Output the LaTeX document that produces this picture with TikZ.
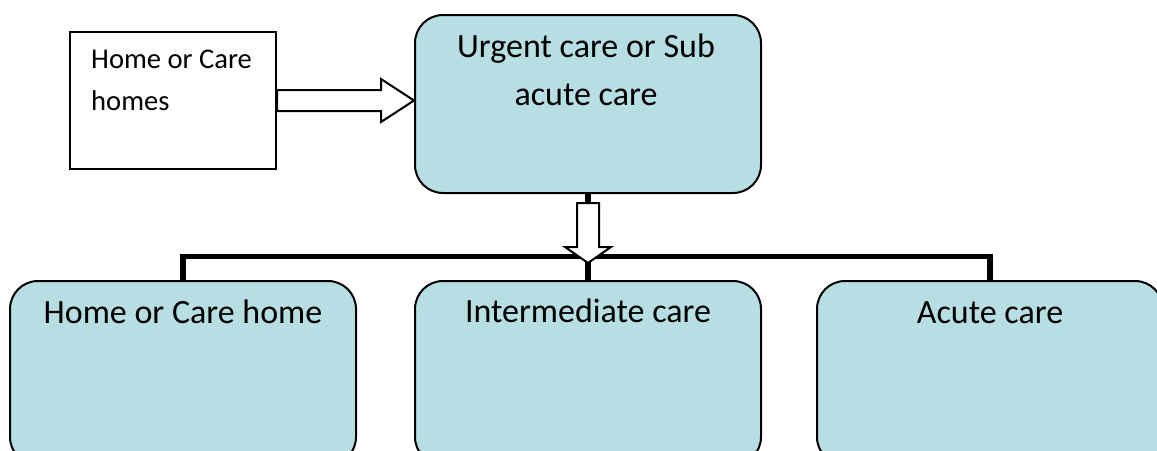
\documentclass[tikz,border=0pt]{standalone}
\usepackage{fontspec}
\setmainfont{Carlito}
\usetikzlibrary{calc}
\definecolor{boxfill}{HTML}{B7DEE2}
\tikzset{
  carebox/.style={draw=black, line width=2pt, fill=boxfill, rounded corners=28pt,
    inner sep=0pt, minimum width=346pt, anchor=north west},
  plainbox/.style={draw=black, line width=2pt, fill=white, inner sep=0pt, anchor=north west},
  blockarrow/.style={draw=black, line width=2pt, fill=white, line join=miter},
  bus/.style={draw=black, line width=5.5pt},
  bigtext/.style={inner sep=0pt, font=\fontsize{34}{48}\selectfont},
  smalltext/.style={inner sep=0pt, font=\fontsize{28.6}{42}\selectfont},
}
\begin{document}
\begin{tikzpicture}[x=1pt, y=-1pt]
\useasboundingbox (0,0) rectangle (1157,450);
\clip (0,0) rectangle (1157,450);

% boxes
\node[plainbox, minimum width=206pt, minimum height=137pt] (src) at (69,31) {};
\node[carebox, minimum height=178pt] (urgent) at (414,14) {};
\node[carebox, minimum height=184pt] (homecare) at (9,280) {};
\node[carebox, minimum height=184pt] (inter) at (414,280) {};
\node[carebox, minimum height=184pt] (acute) at (816,280) {};

% labels (a two-line node sits on the baseline of its last line)
\node[smalltext, anchor=base west, align=left] (srctext) at (91,110) {Home or Care\\homes};
\node[bigtext, anchor=base] (urgenttext) at ($(urgent.north)+(-2,43)$) {Urgent care or Sub};
\node[bigtext, anchor=base] (urgenttext2) at ($(urgent.north)+(-2,91)$) {acute care};
\node[bigtext, anchor=base] (homecaretext) at ($(homecare.north)+(0,43)$) {Home or Care home};
\node[bigtext, anchor=base] (intertext) at ($(inter.north)+(0,42)$) {Intermediate care};
\node[bigtext, anchor=base] (acutetext) at ($(acute.north)+(0,43)$) {Acute care};

% distribution bar to the three destinations
\draw[bus] (urgent.south) -- ++(0,10);
\draw[bus] (homecare.north) -- ++(0,-23.5) -| (acute.north);
\draw[bus] (inter.north) -- ++(0,-23.5);

% block arrow from the source box into urgent care
\draw[blockarrow] ($(src.east)+(0,-10.5)$) -- ++(104,0) -- ++(0,-11)
  -- (urgent.west |- src.east) -- ($(src.east)+(104,21.5)$) -- ++(0,-11)
  -- ($(src.east)+(0,10.5)$) -- cycle;

% block arrow down from urgent care onto the bar
\draw[blockarrow] ($(urgent.south)+(-11,9)$) -- ++(0,44) -- ++(-12,0)
  -- ($(urgent.south)+(0,69)$) -- ($(urgent.south)+(23,53)$) -- ++(-12,0)
  -- ($(urgent.south)+(11,9)$) -- cycle;
\end{tikzpicture}
\end{document}
